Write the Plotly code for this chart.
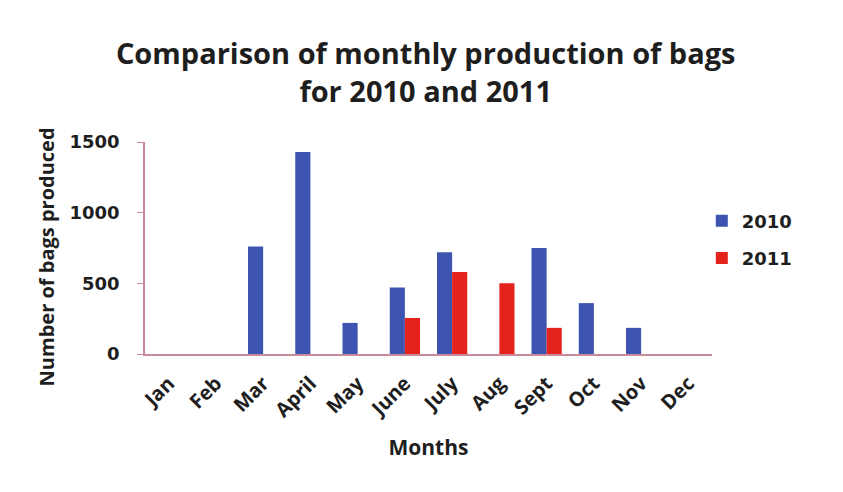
import plotly.graph_objects as go

months = ["Jan", "Feb", "Mar", "April", "May", "June", "July", "Aug", "Sept", "Oct", "Nov", "Dec"]
bags_2010 = [0, 0, 760, 1430, 220, 470, 720, 0, 750, 360, 185, 0]
bags_2011 = [0, 0, 0, 0, 0, 255, 580, 500, 185, 0, 0, 0]
y_ticks = [0, 500, 1000, 1500]

font_family = "Open Sans, Lato, sans-serif"
wide_font = "DejaVu Sans, Verdana, sans-serif"
txt = "#1e1e1e"

fig = go.Figure()
fig.add_trace(go.Bar(x=months, y=bags_2010, name="<b>2010</b>", legendgroup="a",
                     marker=dict(color="#3d55b0", line=dict(color="#2a3578", width=0))))
fig.add_trace(go.Bar(x=months, y=bags_2011, name="<b>2011</b>", legendgroup="b",
                     marker=dict(color="#e3231c", line=dict(color="#9a1a14", width=0))))

fig.update_layout(
    width=843, height=492,
    paper_bgcolor="white", plot_bgcolor="white",
    margin=dict(l=145, r=131, t=142, b=138),
    barmode="group", bargap=0.36, bargroupgap=0,
    title=dict(text="<b>Comparison of monthly production of bags<br>for 2010 and 2011</b>",
               x=0.505, xanchor="center", y=0.869, yanchor="middle",
               font=dict(family=font_family, size=29, color=txt)),
    legend=dict(x=0.982, xanchor="left", y=0.54, yanchor="middle",
                font=dict(family=wide_font, size=18, color=txt),
                itemwidth=30, traceorder="grouped", tracegroupgap=11),
    showlegend=True,
    annotations=[dict(text="<b>Number of bags produced</b>", textangle=-90,
                      xref="paper", yref="paper", x=-0.173, y=0.46,
                      xanchor="center", yanchor="middle", showarrow=False,
                      font=dict(family=font_family, size=20, color=txt))],
)
fig.update_xaxes(
    tickangle=-45, showgrid=False, showline=True, linecolor="#c98a9a", linewidth=1.5,
    tickvals=months, ticktext=[f"<b>{m}</b>" for m in months],
    ticks="outside", ticklen=8, tickcolor="rgba(0,0,0,0)",
    tickfont=dict(family=font_family, size=20, color=txt),
    title=dict(text="<b>Months</b>", font=dict(family=font_family, size=21, color=txt), standoff=18),
)
fig.update_yaxes(
    range=[0, 1500], tickvals=y_ticks, ticktext=[f"<b>{v}</b>" for v in y_ticks],
    showgrid=False, showline=True, linecolor="#c98a9a", linewidth=1.5,
    ticks="outside", ticklen=6, tickcolor="#c98a9a", ticklabelstandoff=14,
    tickfont=dict(family=wide_font, size=18, color=txt),
    zeroline=False,
)

fig.write_html("out.html")
